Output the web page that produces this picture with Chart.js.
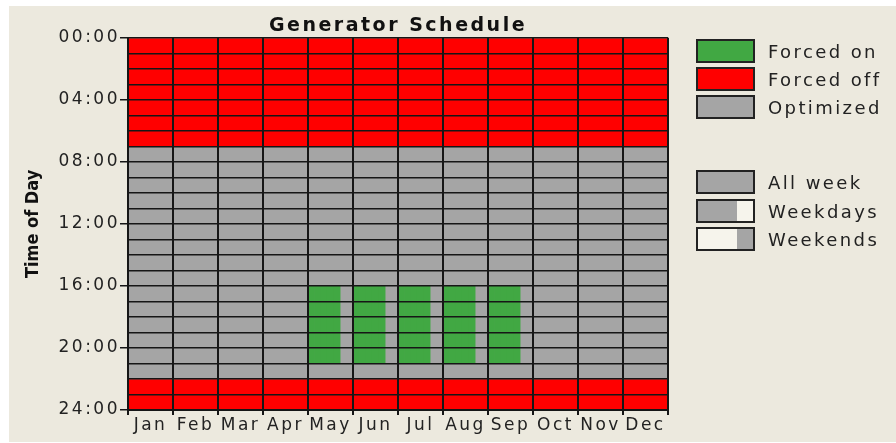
<!DOCTYPE html>
<html lang="en">
<head>
  <meta charset="UTF-8" />
  <title>Generator Schedule</title>
  <style>
    body {
      margin: 0;
      background-color: #ffffff;
      font-family: 'DejaVu Sans', sans-serif;
    }
    #panel {
      position: absolute;
      left: 9px;
      top: 6px;
      width: 887px;
      height: 436px;
      background-color: #ece9de;
    }
    #chart {
      position: absolute;
      left: 0;
      top: 0;
    }
    .legend-item {
      position: absolute;
      left: 696px;
      height: 24px;
      display: flex;
      align-items: center;
    }
    .swatch {
      width: 55px;
      height: 20px;
      border: 2px solid #222;
      display: flex;
    }
    .swatch div {
      height: 100%;
    }
    .legend-item span {
      margin-left: 13px;
      font-size: 18px;
      letter-spacing: 2.4px;
      color: #222;
    }
  </style>
</head>
<body>
  <div id="panel"></div>
  <canvas id="chart" width="896" height="443"></canvas>
  <div id="legend"></div>

  <script src="https://cdn.jsdelivr.net/npm/chart.js"></script>
  <script>
    // data
    const months = ['Jan', 'Feb', 'Mar', 'Apr', 'May', 'Jun', 'Jul', 'Aug', 'Sep', 'Oct', 'Nov', 'Dec'];
    const dayTypes = ['Mon', 'Tue', 'Wed', 'Thu', 'Fri', 'Sat', 'Sun'];
    const weekdayCount = 5;

    // hour ranges per month [from, to]
    const forcedOffNight = [[0, 7], [0, 7], [0, 7], [0, 7], [0, 7], [0, 7], [0, 7], [0, 7], [0, 7], [0, 7], [0, 7], [0, 7]];
    const optimizedDay = [[7, 22], [7, 22], [7, 22], [7, 22], [7, 22], [7, 22], [7, 22], [7, 22], [7, 22], [7, 22], [7, 22], [7, 22]];
    const forcedOffLate = [[22, 24], [22, 24], [22, 24], [22, 24], [22, 24], [22, 24], [22, 24], [22, 24], [22, 24], [22, 24], [22, 24], [22, 24]];
    const forcedOnWeekdays = [null, null, null, null, [16, 21], [16, 21], [16, 21], [16, 21], [16, 21], null, null, null];

    const hourTicks = [0, 4, 8, 12, 16, 20, 24];

    const colors = {
      on: '#41a843',
      off: '#ff0000',
      opt: '#a5a5a5',
      blank: '#f6f4ec',
      grid: '#161616'
    };

    // month x day slots for the weekday-only cells
    const daySlots = [];
    const forcedOnSlots = [];
    months.forEach((m, i) => {
      dayTypes.forEach((d, j) => {
        daySlots.push(m + ' ' + d);
        forcedOnSlots.push(j < weekdayCount ? forcedOnWeekdays[i] : null);
      });
    });

    // wide, old-style text; the axis title stays tight
    const spacingPlugin = {
      id: 'spacing',
      beforeDraw(chart) {
        chart.ctx.letterSpacing = '2.5px';
      }
    };

    function tightTitle(scale) {
      if (scale._tightTitle) return;
      const orig = scale.drawTitle;
      scale.drawTitle = function () {
        const prev = this.ctx.letterSpacing;
        this.ctx.letterSpacing = '0px';
        orig.call(this);
        this.ctx.letterSpacing = prev;
      };
      scale._tightTitle = true;
    }

    const barBase = {
      barPercentage: 1,
      categoryPercentage: 1,
      borderWidth: 0,
      grouped: false
    };

    new Chart(document.getElementById('chart'), {
      type: 'bar',
      data: {
        labels: months,
        datasets: [
          // first dataset is painted last, so the weekday cells sit on top
          { ...barBase, label: 'Forced on', data: forcedOnSlots, backgroundColor: colors.on, xAxisID: 'x2' },
          { ...barBase, label: 'Forced off', data: forcedOffNight, backgroundColor: colors.off },
          { ...barBase, label: 'Optimized', data: optimizedDay, backgroundColor: colors.opt },
          { ...barBase, label: 'Forced off', data: forcedOffLate, backgroundColor: colors.off }
        ]
      },
      options: {
        responsive: false,
        animation: false,
        layout: { padding: { left: 0, top: 0, right: 228, bottom: 0 } },
        plugins: {
          legend: { display: false },
          tooltip: { enabled: false },
          title: {
            display: true,
            text: 'Generator Schedule',
            fullSize: false,
            color: '#111',
            font: { family: 'DejaVu Sans', size: 19, weight: 'bold' },
            padding: { top: 15, bottom: 0 }
          }
        },
        scales: {
          x: {
            type: 'category',
            offset: true,
            grid: {
              offset: true,
              color: colors.grid,
              lineWidth: 2,
              tickLength: 5,
              tickColor: colors.grid,
              z: 1
            },
            border: { color: colors.grid, width: 2, z: 2 },
            ticks: {
              color: '#222',
              padding: 0,
              font: { family: 'DejaVu Sans', size: 17 },
              maxRotation: 0,
              autoSkip: false,
              z: 2
            },
            afterFit(scale) { scale.height = 33; }
          },
          x2: {
            type: 'category',
            labels: daySlots,
            offset: true,
            display: false
          },
          y: {
            type: 'linear',
            min: 0,
            max: 24,
            reverse: true,
            grid: {
              color: colors.grid,
              lineWidth: 1.5,
              tickLength: 8,
              tickColor: c => hourTicks.includes(c.tick.value) ? colors.grid : 'rgba(0,0,0,0)',
              z: 1
            },
            border: { color: colors.grid, width: 2, z: 2 },
            ticks: {
              stepSize: 1,
              autoSkip: false,
              padding: 0,
              color: '#222',
              font: { family: 'DejaVu Sans', size: 17 },
              callback: v => hourTicks.includes(v) ? String(v).padStart(2, '0') + ':00' : '',
              z: 2
            },
            title: {
              display: true,
              text: 'Time of Day',
              color: '#111',
              font: { family: "'DejaVu Sans Condensed', 'DejaVu Sans'", size: 18, weight: 'bold' },
              padding: { top: 23, bottom: 0 }
            },
            afterFit(scale) {
              scale.width = 128;
              tightTitle(scale);
            }
          }
        }
      },
      plugins: [spacingPlugin]
    });

    // legend on the right
    const legendItems = [
      { label: 'Forced on', top: 39, parts: [[colors.on, 100]] },
      { label: 'Forced off', top: 67, parts: [[colors.off, 100]] },
      { label: 'Optimized', top: 95, parts: [[colors.opt, 100]] },
      { label: 'All week', top: 170, parts: [[colors.opt, 100]] },
      { label: 'Weekdays', top: 199, parts: [[colors.opt, 71], [colors.blank, 29]] },
      { label: 'Weekends', top: 227, parts: [[colors.blank, 71], [colors.opt, 29]] }
    ];
    const legend = document.getElementById('legend');
    legendItems.forEach(item => {
      const row = document.createElement('div');
      row.className = 'legend-item';
      row.style.top = item.top + 'px';
      const sw = document.createElement('div');
      sw.className = 'swatch';
      item.parts.forEach(([c, w]) => {
        const p = document.createElement('div');
        p.style.background = c;
        p.style.width = w + '%';
        sw.appendChild(p);
      });
      const txt = document.createElement('span');
      txt.textContent = item.label;
      row.appendChild(sw);
      row.appendChild(txt);
      legend.appendChild(row);
    });
  </script>
</body>
</html>
